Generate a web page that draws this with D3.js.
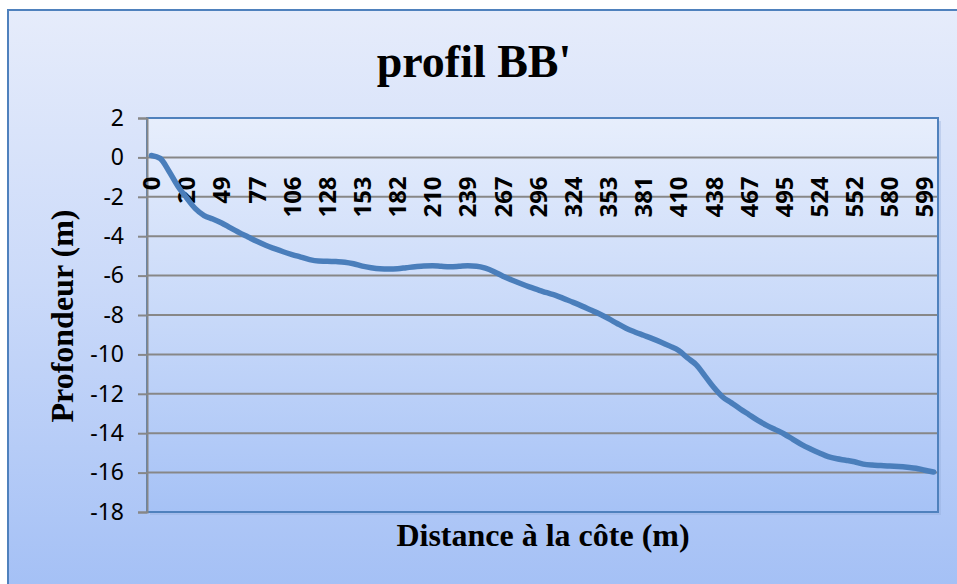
<!DOCTYPE html>
<html>
<head>
<meta charset="utf-8">
<script src="https://cdn.jsdelivr.net/npm/d3@7"></script>
<style>
  body { margin: 0; background: #ffffff; }
  svg { display: block; }
</style>
</head>
<body>
<svg id="profil"></svg>
<script>
// distances (m) - only every 4th is labelled on the chart
var distances = [
  0, 5, 10, 15, 20, 27, 35, 42, 49, 56, 63, 70, 77, 84, 92, 99,
  106, 112, 117, 123, 128, 134, 141, 147, 153, 160, 168, 175,
  182, 189, 196, 203, 210, 217, 225, 232, 239, 246, 253, 260,
  267, 274, 282, 289, 296, 303, 310, 317, 324, 331, 339, 346,
  353, 360, 367, 374, 381, 388, 395, 403, 410, 417, 424, 431,
  438, 445, 453, 460, 467, 474, 481, 488, 495, 502, 510, 517,
  524, 531, 538, 545, 552, 559, 566, 573, 580, 585, 590, 594,
  599, 604
]

// depth (m)
var depths = [
  0.1, -0.05, -0.7, -1.45, -2.05, -2.6, -2.95, -3.13, -3.33, -3.58,
  -3.82, -4.04, -4.26, -4.46, -4.63, -4.79, -4.93, -5.06, -5.19, -5.26,
  -5.27, -5.29, -5.32, -5.4, -5.52, -5.6, -5.65, -5.66, -5.65, -5.6,
  -5.55, -5.51, -5.5, -5.53, -5.55, -5.53, -5.5, -5.52, -5.62, -5.8,
  -6.03, -6.22, -6.4, -6.57, -6.72, -6.87, -7.0, -7.18, -7.36, -7.55,
  -7.75, -7.95, -8.18, -8.43, -8.67, -8.86, -9.03, -9.2, -9.38, -9.58,
  -9.8, -10.18, -10.53, -11.1, -11.68, -12.16, -12.46, -12.77, -13.06, -13.35,
  -13.6, -13.82, -14.04, -14.31, -14.58, -14.8, -15.0, -15.19, -15.3, -15.37,
  -15.45, -15.57, -15.62, -15.64, -15.66, -15.69, -15.73, -15.78, -15.88, -15.97
]

var yTicks = [2, 0, -2, -4, -6, -8, -10, -12, -14, -16, -18]
var labelEvery = 4

var dimensions = {
  width: 957,
  height: 584,
  margin: {
    top: 118,
    bottom: 72,
    right: 19,
    left: 147
  }
}

var dataset = distances.map(function (d, i) {
  return { Dist: d, Depth: depths[i], idx: i }
})

var svg = d3.select("#profil")
  .attr("width", dimensions.width)
  .attr("height", dimensions.height)

var defs = svg.append("defs")

var bg = defs.append("linearGradient")
  .attr("id", "bgGrad")
  .attr("x1", 0).attr("y1", 0).attr("x2", 0).attr("y2", 1)
bg.append("stop").attr("offset", "0%").attr("stop-color", "#e6ecfb")
bg.append("stop").attr("offset", "45%").attr("stop-color", "#cbdaf9")
bg.append("stop").attr("offset", "100%").attr("stop-color", "#a1bef5")

var pg = defs.append("linearGradient")
  .attr("id", "plotGrad")
  .attr("x1", 0).attr("y1", 0).attr("x2", 0).attr("y2", 1)
pg.append("stop").attr("offset", "0%").attr("stop-color", "#e7eefc")
pg.append("stop").attr("offset", "50%").attr("stop-color", "#c8d9f9")
pg.append("stop").attr("offset", "100%").attr("stop-color", "#a6c2f6")

// chart frame
svg.append("rect")
  .attr("x", 8)
  .attr("y", 10)
  .attr("width", dimensions.width + 20)
  .attr("height", dimensions.height + 20)
  .attr("fill", "url(#bgGrad)")
  .attr("stroke", "#4f81bd")
  .attr("stroke-width", 2)

var plotW = dimensions.width - dimensions.margin.left - dimensions.margin.right
var plotH = dimensions.height - dimensions.margin.top - dimensions.margin.bottom

// plot area with shadow
svg.append("rect")
  .attr("x", dimensions.margin.left + 3)
  .attr("y", dimensions.margin.top + 3)
  .attr("width", plotW)
  .attr("height", plotH)
  .attr("fill", "#8fa9d6")
  .attr("opacity", 0.35)

svg.append("rect")
  .attr("x", dimensions.margin.left)
  .attr("y", dimensions.margin.top)
  .attr("width", plotW)
  .attr("height", plotH)
  .attr("fill", "url(#plotGrad)")
  .attr("stroke", "#4f81bd")
  .attr("stroke-width", 2)

var xScale = d3.scaleBand()
  .domain(dataset.map(d => d.idx))
  .range([dimensions.margin.left, dimensions.width - dimensions.margin.right])
  .paddingInner(0)

var yScale = d3.scaleLinear()
  .domain([-18, 2])
  .range([dimensions.height - dimensions.margin.bottom, dimensions.margin.top])

// gridlines
svg.append("g")
  .selectAll("line")
  .data(yTicks.filter(t => t != -18 && t != 2))
  .enter().append("line")
  .attr("x1", dimensions.margin.left)
  .attr("x2", dimensions.width - dimensions.margin.right - 1)
  .attr("y1", d => yScale(d))
  .attr("y2", d => yScale(d))
  .attr("stroke", "#878787")
  .attr("stroke-width", 2)

// y axis
var yAxisGen = d3.axisLeft(yScale)
  .tickValues(yTicks)
  .tickSize(9)
  .tickPadding(14)
  .tickFormat(d3.format("d"))

var yAxis = svg.append("g")
  .attr("transform", `translate(${dimensions.margin.left},0)`)
  .call(yAxisGen)

yAxis.select(".domain")
  .attr("stroke", "#878787")
  .attr("stroke-width", 2)
yAxis.selectAll(".tick line")
  .attr("stroke", "#878787")
  .attr("stroke-width", 2)
yAxis.selectAll(".tick text")
  .attr("fill", "#000")
  .style("font-family", "'Noto Sans', 'Liberation Sans', sans-serif")
  .style("font-size", "23px")
  .text(d => d < 0 ? "-" + Math.abs(d) : d)

// category labels, rotated, hanging under the zero line
var zeroY = yScale(0)
svg.append("g")
  .selectAll("text")
  .data(dataset.filter(d => d.idx % labelEvery == 0))
  .enter().append("text")
  .attr("transform", d => `translate(${xScale(d.idx) + xScale.bandwidth() / 2},${zeroY + 19}) rotate(-90)`)
  .attr("dy", "0.36em")
  .attr("text-anchor", "end")
  .style("font-family", "'Noto Sans', 'Liberation Sans', sans-serif")
  .style("font-weight", "bold")
  .style("font-size", "24px")
  .text(d => d.Dist)

// profile line
var line = d3.line()
  .x(d => xScale(d.idx) + xScale.bandwidth() / 2)
  .y(d => yScale(d.Depth))
  .curve(d3.curveMonotoneX)

svg.append("path")
  .datum(dataset)
  .attr("d", line)
  .attr("fill", "none")
  .attr("stroke", "#4a7ebb")
  .attr("stroke-width", 5.5)
  .attr("stroke-linejoin", "round")
  .attr("stroke-linecap", "round")

// titles
svg.append("text")
  .attr("x", 474)
  .attr("y", 77)
  .attr("text-anchor", "middle")
  .style("font-family", "'Liberation Serif', 'DejaVu Serif', serif")
  .style("font-weight", "bold")
  .style("font-size", "46px")
  .text("profil BB'")

svg.append("text")
  .attr("x", 543)
  .attr("y", 546)
  .attr("text-anchor", "middle")
  .style("font-family", "'Liberation Serif', 'DejaVu Serif', serif")
  .style("font-weight", "bold")
  .style("font-size", "32px")
  .text("Distance à la côte (m)")

svg.append("text")
  .attr("transform", "translate(73,316) rotate(-90)")
  .attr("text-anchor", "middle")
  .style("font-family", "'Liberation Serif', 'DejaVu Serif', serif")
  .style("font-weight", "bold")
  .style("font-size", "32px")
  .text("Profondeur (m)")
</script>
</body>
</html>
